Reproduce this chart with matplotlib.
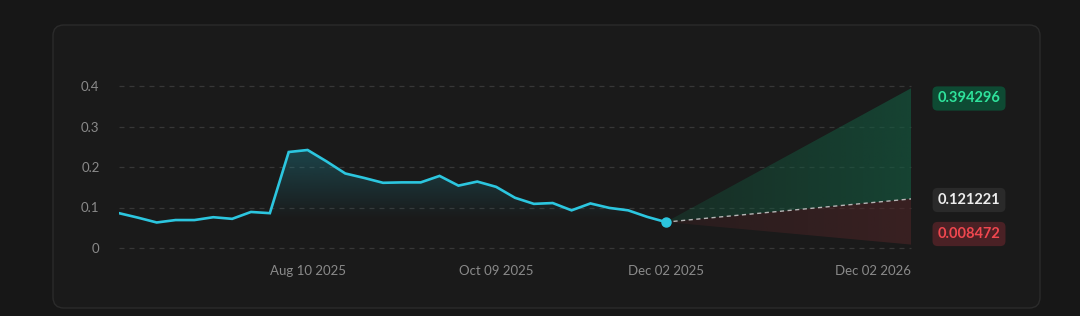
import numpy as np
import matplotlib.pyplot as plt
from matplotlib.patches import FancyBboxPatch
from matplotlib.colors import to_rgb

# Lịch sử giá (mỗi điểm cách nhau ~6 ngày)
price = [0.086, 0.075, 0.063, 0.069, 0.069, 0.076, 0.072, 0.089, 0.086, 0.237,
         0.242, 0.214, 0.184, 0.173, 0.161, 0.162, 0.162, 0.178, 0.154, 0.164,
         0.151, 0.124, 0.109, 0.111, 0.093, 0.110, 0.099, 0.093, 0.077, 0.064]

# Dự báo tới Dec 02 2026
forecast_high = 0.394296
forecast_mid = 0.121221
forecast_low = 0.008472
forecast_steps = 13

tick_labels = ["Aug 10 2025", "Oct 09 2025", "Dec 02 2025", "Dec 02 2026"]
tick_index = [10, 20, 29, 29 + forecast_steps]
y_ticks = [0, 0.1, 0.2, 0.3, 0.4]
y_tick_labels = ["0", "0.1", "0.2", "0.3", "0.4"]

BG = "#171717"
CARD = "#1a1a1a"
LINE = "#2cc6df"
GRID = "#373737"
TXT = "#8a8a8a"

plt.rcParams['font.family'] = ['Lato', 'DejaVu Sans']

W, H = 1080, 316
fig = plt.figure(figsize=(W / 100, H / 100), dpi=100, facecolor=BG)

# Khung thẻ bo góc
card = FancyBboxPatch((53 / W, (H - 308) / H), (1040 - 53) / W, (308 - 25) / H,
                      boxstyle="round,pad=0,rounding_size=0.01",
                      transform=fig.transFigure, facecolor=CARD,
                      edgecolor="#2b2b2b", linewidth=1.0, mutation_aspect=W / H,
                      zorder=-10)
fig.patches.append(card)

ax = fig.add_axes([119 / W, (H - 248) / H, (911 - 119) / W, (248 - 86) / H])
ax.set_facecolor("none")
for s in ax.spines.values():
    s.set_visible(False)

x = np.arange(len(price))
last = len(price) - 1
end = last + forecast_steps


def gradient_fill(poly, color, extent, alpha, vertical=True):
    # ảnh gradient được cắt theo hình đa giác
    r, g, b = to_rgb(color)
    n = len(alpha)
    img = np.zeros((n, 1, 4)) if vertical else np.zeros((1, n, 4))
    img[..., 0], img[..., 1], img[..., 2] = r, g, b
    if vertical:
        img[:, 0, 3] = alpha
    else:
        img[0, :, 3] = alpha
    im = ax.imshow(img, extent=extent, origin="lower", aspect="auto", zorder=1)
    im.set_clip_path(poly.get_paths()[0], transform=ax.transData)


# Lưới ngang nét đứt
for yv in y_ticks:
    ax.axhline(yv, color=GRID, lw=0.9, ls=(0, (4, 4)), zorder=0, clip_on=False)

# Vùng gradient dưới đường giá
poly = ax.fill_between(x, price, 0, color="none", lw=0)
ys = np.linspace(0, 0.26, 200)
gradient_fill(poly, "#1f8a9a", [0, last, 0, 0.26],
              np.clip((ys - 0.07) / (0.26 - 0.07), 0, 1) * 0.42)

# Nón dự báo
fx = [last, end]
start = price[-1]
xs = np.linspace(0, 1, 200)
up = ax.fill_between(fx, [start, forecast_mid], [start, forecast_high], color="none", lw=0)
gradient_fill(up, "#145a40", [last, end, 0, 0.4], 0.3 + 0.35 * xs, vertical=False)
dn = ax.fill_between(fx, [start, forecast_low], [start, forecast_mid], color="none", lw=0)
gradient_fill(dn, "#4a2426", [last, end, 0, 0.4], 0.3 + 0.35 * xs, vertical=False)
ax.plot(fx, [start, forecast_mid], color="#b5b5b5", lw=1.0, ls=(0, (3, 2.5)), zorder=2)

ax.set_xlim(0, end)
ax.set_ylim(0, 0.4)

ax.plot(x, price, color=LINE, lw=1.9, zorder=3, solid_joinstyle="miter")
ax.plot([last], [price[-1]], "o", color=LINE, ms=6.5, zorder=4, clip_on=False)

ax.set_yticks(y_ticks)
ax.set_yticklabels(y_tick_labels)
ax.set_xticks(tick_index)
ax.set_xticklabels(tick_labels)
ax.tick_params(axis="both", length=0, colors=TXT, labelsize=9.5)
ax.tick_params(axis="y", pad=14)
ax.tick_params(axis="x", pad=12)
ax.get_xticklabels()[-1].set_horizontalalignment("right")

# Nhãn giá trị dự báo bên phải
labels = [
    (f"{forecast_high:.6f}", 98.5, "#2fe39c", "#0e4a33"),
    (f"{forecast_mid:.6f}", 200, "#eeeeee", "#2a2a2a"),
    (f"{forecast_low:.6f}", 234, "#f0474f", "#4a2125"),
]
for txt, py, fc, bc in labels:
    fig.text(969 / W, 1 - py / H, txt, ha="center", va="center", color=fc,
             fontsize=10.5, fontweight="bold",
             bbox=dict(boxstyle="round,pad=0.35,rounding_size=0.35", fc=bc, ec="none"))

fig.savefig("out.png", dpi=100, facecolor=BG)
